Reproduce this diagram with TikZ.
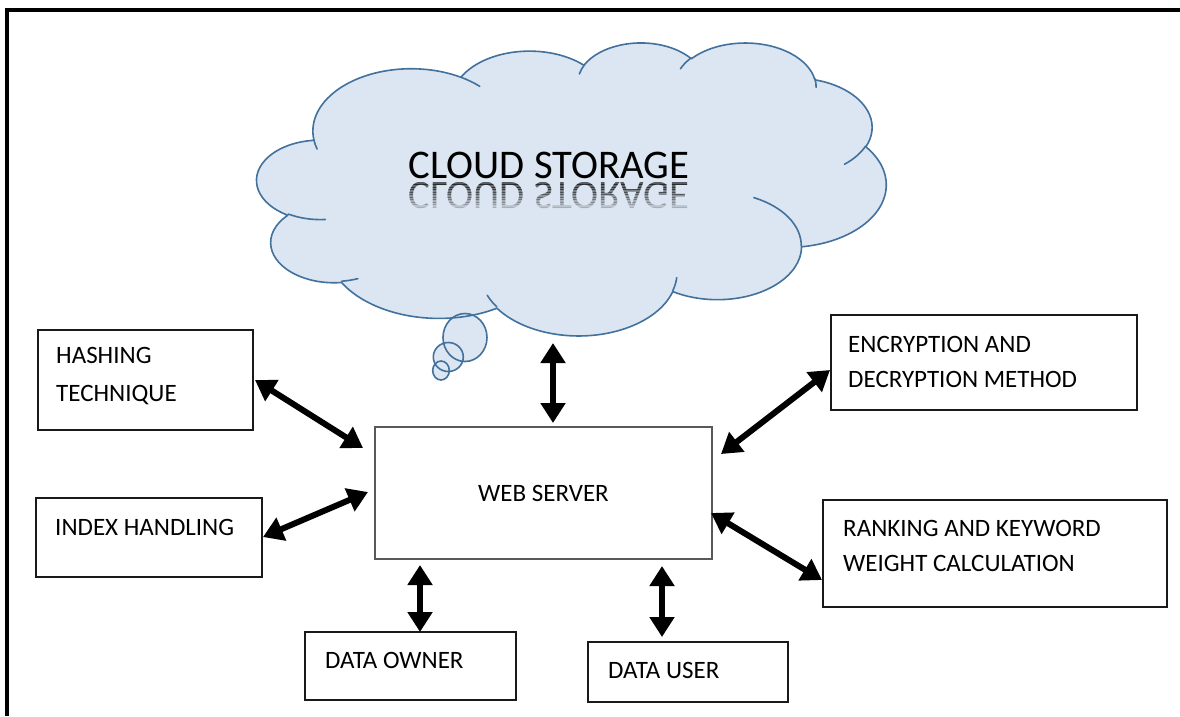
\documentclass[tikz,border=0pt]{standalone}
\usepackage{fontspec}
\setmainfont{Carlito}
\usetikzlibrary{arrows.meta}
\definecolor{cloudfill}{HTML}{DCE6F2}
\definecolor{cloudline}{HTML}{41719C}
\newcommand\cldarc[5]{%
  \pgfmathsetmacro\cldta{atan2((#2)*sin(#4),(#3)*cos(#4))}%
  \pgfmathsetmacro\cldtb{atan2((#2)*sin((#4)+(#5)),(#3)*cos((#4)+(#5)))}%
  \pgfmathsetmacro\cldtb{\cldta+mod(\cldtb-\cldta+720,360)}%
  \expandafter\xdef\csname #1\endcsname{arc[x radius=#2,y radius=#3,start angle=\cldta,end angle=\cldtb]}%
}
\begin{document}
\begin{tikzpicture}[x=1pt,y=-1pt,
  box/.style={draw=black!90, line width=1.2pt, rectangle, inner sep=0pt},
  lbl/.style={font=\fontsize{25}{34.5}\selectfont, inner sep=0pt, align=left, anchor=base west},
  cloudtxt/.style={font=\fontsize{40.7}{48}\selectfont, inner sep=0pt},
  dbl/.style={{Triangle[length=20pt,width=24pt]}-{Triangle[length=20pt,width=24pt]}, line width=6pt},
  cloudshape/.style={fill=cloudfill},
  cloudedge/.style={draw=cloudline, line width=1.6pt}]
\useasboundingbox (0,0) rectangle (1180,716);
\fill[white] (0,0) rectangle (1180,716);
% outer frame
\draw[line width=3.5pt] (7,716) -- (7,10) -- (1180,10);

% cloud arcs
\cldarc{cA}{67.53}{91.90}{-190.487}{123.781}
\cldarc{cB}{53.33}{72.67}{-144.102}{89.945}
\cldarc{cC}{43.65}{59.45}{-145.808}{99.723}
\cldarc{cD}{48.57}{65.95}{-130.986}{117.242}
\cldarc{cE}{53.33}{72.73}{-78.709}{109.027}
\cldarc{cF}{67.75}{92.20}{-46.267}{130.269}
\cldarc{cG}{57.85}{78.67}{0.625}{114.033}
\cldarc{cH}{67.52}{92.15}{22.452}{115.173}
\cldarc{cI}{77.20}{105.43}{66.243}{75.711}
\cldarc{cJ}{43.60}{59.18}{-274.942}{146.736}
\cldarc{cK}{43.45}{59.45}{-246.829}{152.519}
\cldarc{iA}{43.45}{59.45}{86.742}{26.430}
\cldarc{iB}{43.60}{59.18}{73.610}{11.447}
\cldarc{iC}{67.52}{92.15}{137.624}{14.081}
\cldarc{iD}{67.52}{92.15}{6.453}{15.998}
\cldarc{iE}{57.85}{78.67}{-70.292}{70.917}
\cldarc{iF}{53.33}{72.73}{30.318}{27.752}
\cldarc{iG}{48.57}{65.95}{-13.744}{14.859}
\cldarc{iH}{48.57}{65.95}{-149.181}{18.195}
\cldarc{iI}{43.65}{59.45}{-163.494}{17.686}
\cldarc{iJ}{67.53}{91.90}{-66.707}{12.319}
\cldarc{iK}{67.53}{91.90}{157.654}{11.858}

% fills
\fill[cloudshape] (465,337.5) ellipse[x radius=22, y radius=24];
\fill[cloudshape] (448.3,357) ellipse[x radius=15, y radius=14.5];
\fill[cloudshape] (441,370.5) ellipse[x radius=8.3, y radius=9.5];
\begin{scope}[shift={(257,42)}, x=1.456pt, y=-0.678pt]
  \fill[cloudshape] (39,143.7) \cA \cB \cC \cD \cE \cF \cG \cH \cI \cJ \cK -- cycle;
  \draw[cloudedge, line join=round] (39,143.7) \cA \cB \cC \cD \cE \cF \cG \cH \cI \cJ \cK -- cycle;
  \draw[cloudedge, line cap=round] (46.93,261.77) \iA;
  \draw[cloudedge, line cap=round] (69.28,348.99) \iB;
  \draw[cloudedge, line cap=round] (164.78,390.90) \iC;
  \draw[cloudedge, line cap=round] (288.27,347.51) \iD;
  \draw[cloudedge, line cap=round] (341.29,229.54) \iE;
  \draw[cloudedge, line cap=round] (417.98,153.54) \iF;
  \draw[cloudedge, line cap=round] (383.24,54.26) \iG;
  \draw[cloudedge, line cap=round] (290.78,39.52) \iH;
  \draw[cloudedge, line cap=round] (221.41,47.20) \iI;
  \draw[cloudedge, line cap=round] (140.00,51.92) \iJ;
  \draw[cloudedge, line cap=round] (41.27,157.89) \iK;
\end{scope}
\draw[cloudedge] (465,337.5) ellipse[x radius=22, y radius=24];
\draw[cloudedge] (448.3,357) ellipse[x radius=15, y radius=14.5];
\draw[cloudedge] (441,370.5) ellipse[x radius=8.3, y radius=9.5];

% cloud text and reflection
\node[cloudtxt, anchor=base] (cloudT) at (549,178) {CLOUD STORAGE};
\foreach \k in {0,...,11}{
  \pgfmathsetmacro\op{0.6*(1-\k/12)}
  \begin{scope}
    \clip (380,{182+2.5*\k}) rectangle (720,{184.5+2.5*\k});
    \begin{scope}[shift={(549,182)}, yscale=-1, transform shape]
      \node[cloudtxt, anchor=base, opacity=\op] (refl\k) at (0,0) {CLOUD STORAGE};
    \end{scope}
  \end{scope}
}

% boxes
\node[box, minimum width=215pt, minimum height=100pt] (hashB) at (145.5,380) {};
\node[box, minimum width=226pt, minimum height=79pt] (indexB) at (149,537.5) {};
\node[box, draw=black!65, line width=1.8pt, minimum width=337pt, minimum height=132pt,
      font=\fontsize{25}{30}\selectfont] (webB) at (543.5,493) {WEB SERVER};
\node[box, minimum width=306pt, minimum height=95pt] (encB) at (984,362.5) {};
\node[box, minimum width=344pt, minimum height=107pt] (rankB) at (995,553.5) {};
\node[box, minimum width=211pt, minimum height=68pt] (ownB) at (410.5,666) {};
\node[box, minimum width=200pt, minimum height=60pt] (userB) at (688,672) {};

% labels (base anchor = baseline of the last line)
\node[lbl] (hashT) at (56,401) {HASHING\\[3pt]TECHNIQUE};
\node[lbl] (indexT) at (55,535) {INDEX HANDLING};
\node[lbl] (encT) at (848,387) {ENCRYPTION AND\\DECRYPTION METHOD};
\node[lbl] (rankT) at (843,571) {RANKING AND KEYWORD\\WEIGHT CALCULATION};
\node[lbl] (ownT) at (325,668) {DATA OWNER};
\node[lbl] (userT) at (608,678) {DATA USER};

% connectors
\coordinate (hashE) at (255,380);  \coordinate (webH) at (363,448);
\coordinate (indexE) at (263,537); \coordinate (webI) at (368,492);
\coordinate (cloudE) at (553,343); \coordinate (webC) at (553,423);
\coordinate (encE) at (830,370);   \coordinate (webE) at (721,454);
\coordinate (rankE) at (822,580);  \coordinate (webR) at (711,513);
\coordinate (ownE) at (420,632);   \coordinate (webO) at (420,565);
\coordinate (userE) at (662,637);  \coordinate (webU) at (662,566);
\draw[dbl] (hashE) -- (webH);
\draw[dbl] (indexE) -- (webI);
\draw[dbl] (cloudE) -- (webC);
\draw[dbl] (encE) -- (webE);
\draw[dbl] (rankE) -- (webR);
\draw[dbl] (ownE) -- (webO);
\draw[dbl] (userE) -- (webU);
\end{tikzpicture}
\end{document}
